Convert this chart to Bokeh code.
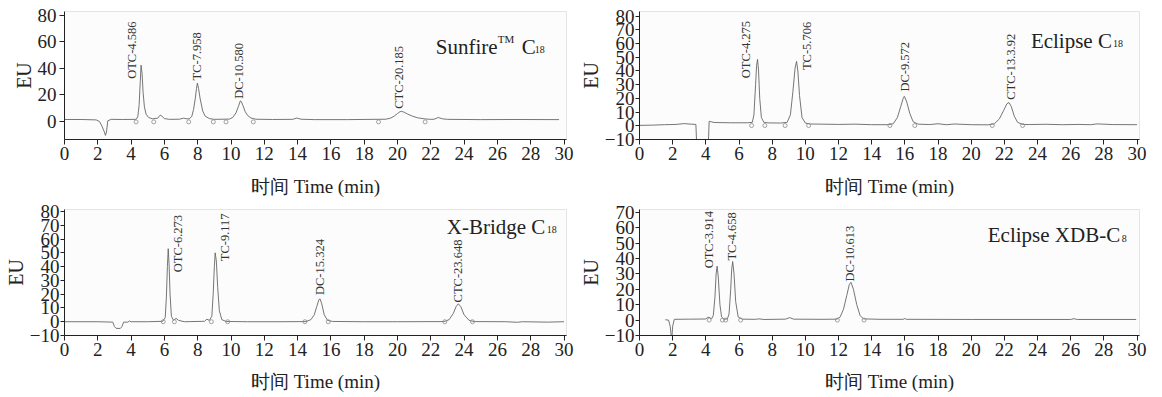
import math
from bokeh.plotting import figure
from bokeh.layouts import row, column
from bokeh.models import Range1d, FixedTicker, Label
from bokeh.embed import file_html
from bokeh.resources import INLINE

# ---------------- data ----------------
x_ticks = list(range(0, 31, 2))

# Panel 1: Sunfire C18
t1 = [0, 1.0, 1.9, 2.1, 2.25, 2.38, 2.46, 2.52, 2.6, 2.8, 3.5, 4.3, 4.4, 4.48, 4.55, 4.6, 4.66, 4.72, 4.8, 4.9,
      5.05, 5.3, 5.6, 5.75, 5.85, 6.0, 6.3, 6.9, 7.15, 7.35, 7.5, 7.65, 7.75, 7.85, 7.93, 7.98, 8.05, 8.15, 8.3, 8.45,
      8.7, 9.0, 9.9, 10.1, 10.3, 10.45, 10.56, 10.62, 10.72, 10.85, 11.0, 11.2, 11.5, 12.5, 13.7, 13.95, 14.2, 15.0, 17.0, 19.3,
      19.6, 19.8, 20.0, 20.15, 20.25, 20.4, 20.6, 20.9, 21.2, 21.6, 22.0, 22.2, 22.45, 22.7, 23.0, 25.0, 27.0, 29.7]
eu1 = [1.5, 1.5, 1.2, 0.0, -3.5, -7.5, -10.5, -8.0, 0.5, 1.6, 1.5, 1.6, 3.5, 12.0, 30.0, 42.5, 36.0, 22.0, 11.0, 5.5,
       3.0, 2.0, 2.5, 4.8, 4.0, 2.2, 1.6, 1.7, 2.5, 2.0, 2.0, 4.0, 9.0, 17.0, 25.0, 29.0, 25.0, 17.0, 8.0, 4.0,
       2.2, 1.6, 1.8, 3.0, 6.5, 11.5, 15.5, 15.0, 12.0, 7.5, 4.5, 2.6, 1.7, 1.5, 1.6, 2.6, 1.7, 1.4, 1.4, 1.7,
       2.6, 4.0, 6.0, 7.4, 7.6, 7.0, 5.6, 4.0, 2.8, 2.0, 1.6, 1.7, 3.0, 2.0, 1.6, 1.4, 1.5, 1.4]
m1_t = [4.3, 5.36, 7.46, 8.94, 9.7, 11.34, 18.86, 21.66]
m1_eu = [-0.3] * 8
lab1 = ["OTC-4.586", "TC-7.958", "DC-10.580", "CTC-20.185"]
lab1_t = [4.04, 7.96, 10.5, 20.06]
lab1_eu = [32.2, 31.0, 17.1, 9.6]

# Panel 2: Eclipse C18
t2 = [0, 0.8, 1.5, 2.2, 2.7, 3.1, 3.4, 3.45, 3.5, 4.15, 4.2, 4.3, 4.5, 5.5, 6.5, 6.8, 6.9, 7.0, 7.06, 7.12,
      7.18, 7.25, 7.35, 7.5, 7.8, 8.5, 8.9, 9.1, 9.25, 9.38, 9.47, 9.55, 9.65, 9.8, 10.0, 10.3, 11.0, 12.0, 13.0, 14.0,
      15.0, 15.3, 15.55, 15.75, 15.9, 15.97, 16.1, 16.3, 16.5, 16.8, 17.5, 18.0, 18.5, 19.0, 20.0, 21.0, 21.4, 21.7, 21.95, 22.15,
      22.28, 22.42, 22.6, 22.8, 23.1, 23.5, 24.5, 25.5, 26.5, 27.2, 27.6, 28.5, 30.0]
eu2 = [0.3, 0.5, 0.8, 1.0, 1.6, 1.2, 1.0, -14.0, -14.0, -14.0, 3.3, 3.0, 2.4, 2.2, 2.2, 2.5, 8.0, 30.0, 44.0, 48.5,
       40.0, 20.0, 6.0, 2.5, 2.1, 2.0, 2.5, 8.0, 25.0, 42.0, 47.0, 40.0, 22.0, 6.0, 2.0, 1.3, 1.2, 1.0, 1.2, 0.8,
       0.8, 1.5, 6.0, 14.0, 20.0, 21.5, 18.0, 9.0, 3.0, 1.2, 0.9, 1.5, 0.8, 1.3, 0.8, 0.7, 1.5, 5.0, 11.0, 16.0,
       17.0, 14.0, 7.0, 2.5, 1.0, 0.9, 1.1, 0.8, 1.0, 0.8, 1.4, 0.9, 0.8]
m2_t = [6.76, 7.56, 8.78, 10.2, 15.1, 16.6, 21.27, 23.1]
m2_eu = [0.2] * 8
lab2 = ["OTC-4.275", "TC-5.706", "DC-9.572", "CTC-13.3.92"]
lab2_t = [6.4, 10.08, 16.0, 22.38]
lab2_eu = [34.7, 40.7, 25.0, 19.0]

# Panel 3: X-Bridge C18
t3 = [0, 2.0, 2.9, 3.0, 3.1, 3.35, 3.45, 3.55, 3.8, 3.9, 4.0, 5.0, 5.9, 6.05, 6.12, 6.18, 6.23, 6.28, 6.34, 6.42,
      6.55, 6.7, 6.85, 7.2, 8.4, 8.55, 8.7, 8.85, 8.93, 9.0, 9.05, 9.12, 9.2, 9.3, 9.45, 9.7, 11.0, 13.0, 14.5, 14.8,
      15.0, 15.15, 15.28, 15.35, 15.45, 15.6, 15.8, 16.1, 18.0, 20.0, 22.8, 23.1, 23.35, 23.52, 23.65, 23.8, 24.0, 24.3, 24.6, 26.5,
      27.2, 27.5, 29.0, 30.0]
eu3 = [0.0, 0.0, -0.3, -3.5, -4.8, -4.9, -3.5, -0.3, -0.3, 0.5, 0.0, 0.0, 0.3, 3.0, 18.0, 40.0, 53.0, 42.0, 20.0, 4.0,
       1.0, 2.5, 1.0, 0.0, 0.3, 1.8, 1.0, 4.0, 20.0, 40.0, 50.0, 44.0, 25.0, 8.0, 1.5, 0.2, 0.0, 0.0, 0.1, 1.5,
       5.0, 11.0, 16.0, 16.5, 13.0, 5.0, 1.0, 0.2, 0.0, 0.0, 0.1, 1.5, 6.0, 11.0, 13.0, 11.0, 5.0, 1.0, 0.1, 0.0,
       -0.4, 0.0, -0.3, 0.0]
m3_t = [5.93, 6.6, 8.82, 9.8, 14.44, 15.84, 22.84, 24.5]
m3_eu = [0.0] * 8
lab3 = ["OTC-6.273", "TC-9.117", "DC-15.324", "CTC-23.648"]
lab3_t = [6.82, 9.64, 15.33, 23.62]
lab3_eu = [35.9, 43.9, 19.4, 14.0]

# Panel 4: Eclipse XDB-C8
t4 = [1.55, 1.75, 1.85, 1.9, 1.95, 2.0, 2.1, 3.0, 4.0, 4.1, 4.2, 4.35, 4.45, 4.55, 4.62, 4.68, 4.75, 4.85, 4.95, 5.1,
      5.3, 5.4, 5.5, 5.56, 5.62, 5.7, 5.8, 5.95, 6.2, 7.0, 7.2, 7.5, 8.8, 9.05, 9.3, 11.0, 11.9, 12.1, 12.3, 12.5,
      12.65, 12.75, 12.9, 13.1, 13.3, 13.5, 14.5, 15.9, 16.0, 16.1, 20.0, 26.0, 26.2, 26.4, 29.95]
eu4 = [0.2, 0.0, -4.0, -9.0, -12.0, -4.0, 0.5, 0.6, 0.7, 1.8, 1.8, 0.8, 3.0, 15.0, 30.0, 35.0, 28.0, 10.0, 2.0, 0.5,
       0.8, 4.0, 20.0, 33.0, 38.0, 30.0, 12.0, 2.0, 0.6, 0.5, 0.8, 0.4, 0.6, 1.6, 0.6, 0.5, 0.6, 2.0, 7.0, 16.0,
       23.0, 24.5, 20.0, 10.0, 3.0, 0.8, 0.5, 0.5, 1.0, 0.5, 0.4, 0.4, 0.9, 0.4, 0.4]
m4_t = [4.2, 5.0, 5.2, 6.1, 11.93, 13.54]
m4_eu = [0.0] * 6
lab4 = ["OTC-3.914", "TC-4.658", "DC-10.613"]
lab4_t = [4.2, 5.6, 12.72]
lab4_eu = [33.6, 38.6, 25.0]

for a, b in [(t1, eu1), (t2, eu2), (t3, eu3), (t4, eu4)]:
    assert len(a) == len(b), (len(a), len(b))

SERIF = "Liberation Serif"
LINE = "#666666"


def make_panel(W, H, L, R, T, B, ylo, yhi, yticks, tick_out, lab_standoff, axl_standoff, xl_standoff,
               t, eu, mt, meu, labs, lt, leu, title_parts, title_t, title_eu):
    p = figure(width=W, height=H, min_border_left=L, min_border_right=R, min_border_top=T,
               min_border_bottom=B, x_range=Range1d(0, 30.15), y_range=Range1d(ylo, yhi),
               output_backend="svg", toolbar_location=None)
    p.background_fill_color = "#fcfcfc"
    p.border_fill_color = "white"
    p.outline_line_color = "#e4e4e4"
    p.xgrid.visible = False
    p.ygrid.visible = False
    p.xaxis.ticker = FixedTicker(ticks=x_ticks)
    p.yaxis.ticker = FixedTicker(ticks=yticks)
    for ax in (p.xaxis[0], p.yaxis[0]):
        ax.axis_line_color = "#222222"
        ax.major_tick_line_color = "#222222"
        ax.minor_tick_line_color = None
        ax.major_tick_in = 0
        ax.major_label_text_font = SERIF
        ax.major_label_text_font_size = "19px"
        ax.major_label_text_color = "#222222"
        ax.axis_label_text_font = SERIF
        ax.axis_label_text_font_style = "normal"
        ax.axis_label_text_color = "#222222"
    p.xaxis.major_tick_out = 5
    p.xaxis.major_label_standoff = 2
    p.yaxis.major_tick_out = tick_out
    p.yaxis.major_label_standoff = lab_standoff
    p.yaxis.axis_label = "EU"
    p.yaxis.axis_label_text_font_size = "20px"
    p.yaxis.axis_label_standoff = axl_standoff
    p.xaxis.axis_label = "时间 Time (min)"
    p.xaxis.axis_label_text_font_size = "19px"
    p.xaxis.axis_label_standoff = xl_standoff

    p.line(t, eu, line_color=LINE, line_width=0.9)
    p.scatter(mt, meu, marker="circle", size=4, fill_color=None, line_color="#8a8a8a", line_width=0.8)

    for s, x, y in zip(labs, lt, leu):
        p.add_layout(Label(x=x, y=y, text=s, angle=math.pi / 2, text_align="left",
                           text_baseline="middle", text_font=SERIF, text_font_size="12.5px",
                           text_color="#333333"))
    for s, dx, dy, fs in title_parts:
        p.add_layout(Label(x=title_t, y=title_eu, x_offset=dx, y_offset=dy, text=s,
                           text_align="left", text_baseline="alphabetic", text_font=SERIF,
                           text_font_size=fs, text_color="#222222"))
    return p


# column 1 width 576, column 2 width 586 ; row 1 height 200, row 2 height 197
p1 = make_panel(576, 200, 64, 10, 11, 61, -13.6, 83, [0, 20, 40, 60, 80], 5, 3, 0, 13,
                t1, eu1, m1_t, m1_eu, lab1, lab1_t, lab1_eu,
                [("Sunfire", 0, 0, "21px"), ("TM", 62, 8, "11px"), ("C", 86, 0, "21px"), ("18", 99, -3, "10px")],
                22.3, 56.5)
p2 = make_panel(586, 200, 63, 23, 11, 61, -10, 83.4, list(range(-10, 81, 10)), 4, 1, 0, 13,
                t2, eu2, m2_t, m2_eu, lab2, lab2_t, lab2_eu,
                [("Eclipse C", 0, 0, "21px"), ("18", 82, -3, "10px")],
                23.6, 62.0)
p3 = make_panel(576, 197, 64, 10, 9, 62, -10, 81.45, list(range(-10, 81, 10)), 4, 1, 0, 12,
                t3, eu3, m3_t, m3_eu, lab3, lab3_t, lab3_eu,
                [("X-Bridge C", 0, 0, "21px"), ("18", 100, -3, "10px")],
                22.96, 69.0)
p4 = make_panel(586, 197, 63, 23, 9, 62, -10, 71.75, list(range(-10, 71, 10)), 4, 1, 0, 12,
                t4, eu4, m4_t, m4_eu, lab4, lab4_t, lab4_eu,
                [("Eclipse XDB-C", 0, 0, "21px"), ("8", 134, -3, "10px")],
                21.0, 55.2)

layout = row(column(p1, p3), column(p2, p4))
open("out.html", "w").write(file_html(layout, INLINE))
